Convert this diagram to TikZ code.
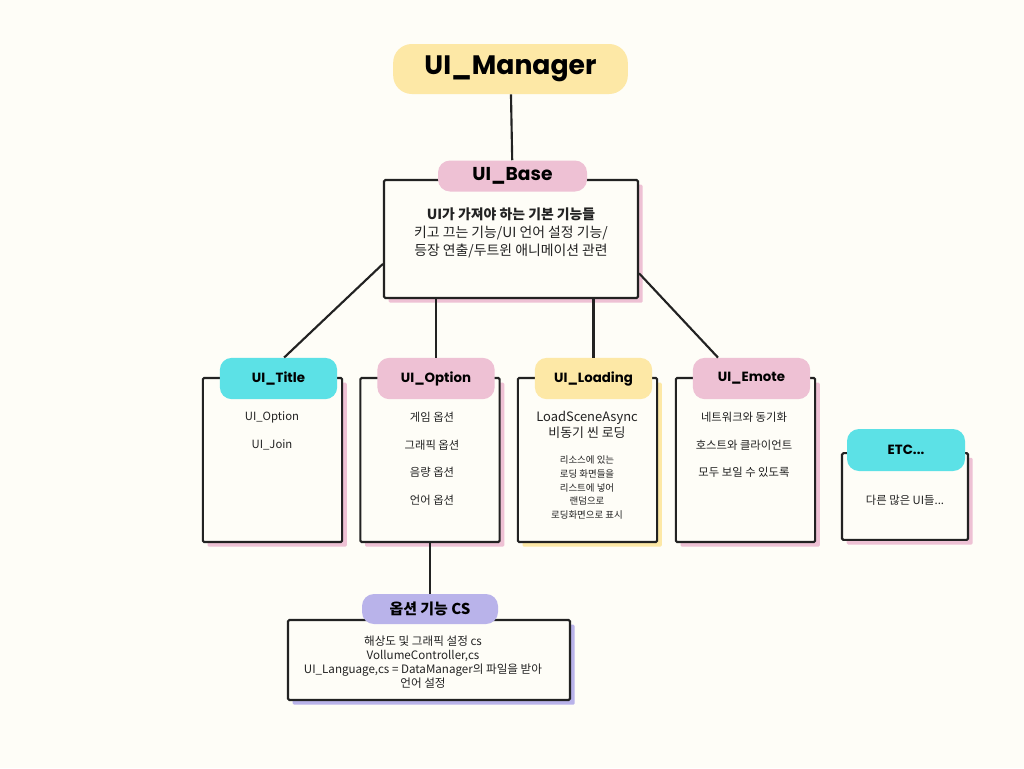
\documentclass[tikz,border=0pt]{standalone}
\usepackage{fontspec}
\setmainfont{Noto Sans CJK KR}
\newfontfamily\labelfont{Poppins}
\usetikzlibrary{positioning,calc}
\definecolor{paper}{HTML}{FEFDF7}
\definecolor{yellowc}{HTML}{FDE8A6}
\definecolor{pinkc}{HTML}{EEC1D4}
\definecolor{cyanc}{HTML}{5CE1E6}
\definecolor{purplec}{HTML}{B9B3EA}
\definecolor{ink}{HTML}{222222}
\tikzset{
  box/.style={draw=ink, line width=1.6pt, fill=paper, rounded corners=1pt,
    preaction={fill=#1, transform canvas={shift={(3.5pt,-3.5pt)}}}},
  pill/.style={fill=#1, rounded corners=9pt, inner sep=0pt, font=\labelfont\bfseries\fontsize{10}{12}\selectfont},
  conn/.style={draw=ink, line width=1.6pt},
  body/.style={text=ink, align=center, font=\fontsize{8.5}{10.5}\selectfont},
}
\begin{document}
\begin{tikzpicture}[x=0.75pt,y=-0.75pt]
    \fill[paper] (0,0) rectangle (1024,768);
    \useasboundingbox (0,0) rectangle (1024,768);
    % top
    \node[pill=yellowc, minimum width=176pt, minimum height=37.5pt, rounded corners=14pt,
      font=\labelfont\bfseries\fontsize{20}{24}\selectfont] (mgr) at (510.5,69) {UI\_Manager};
    \node[box=pinkc, minimum width=190.5pt, minimum height=88.5pt] (base) at (511,239) {};
    \node[pill=pinkc, minimum width=111.75pt, minimum height=23.25pt,
      font=\labelfont\bfseries\fontsize{14}{16}\selectfont] (basepill) at (512.5,176) {UI\_Base};
    \node[body, font=\fontsize{10.4}{13.5}\selectfont] (basetxt) at (511,233)
      {\textbf{UI가 가져야 하는 기본 기능들}\\키고 끄는 기능/UI 언어 설정 기능/\\등장 연출/두트윈 애니메이션 관련};
    % children
    \foreach \nm/\x/\pc/\sc/\lab in {t/272.5/cyanc/pinkc/UI\_Title, o/430/pinkc/pinkc/UI\_Option,
        l/587.5/yellowc/yellowc/UI\_Loading, e/745.5/pinkc/pinkc/UI\_Emote}{
        \node[box=\sc, minimum width=104.5pt, minimum height=123pt] (\nm box) at (\x,460) {};
        \node[pill=\pc, minimum width=88pt, minimum height=31pt] (\nm pill) at (\x+6,378.5) {\lab};
    }
    \node[box=pinkc, minimum width=94.5pt, minimum height=65pt] (etcbox) at (905,496.5) {};
    \node[pill=cyanc, minimum width=88.5pt, minimum height=31.5pt] (etcpill) at (906,450) {ETC...};
    \node[body] (etctxt) at (905,500) {다른 많은 UI들...};
    % texts
    \node[body] (t1) at (272,417) {UI\_Option};
    \node[body] (t2) at (272,445) {UI\_Join};
    \foreach \y/\txt in {417/게임 옵션, 445/그래픽 옵션, 472/음량 옵션, 500/언어 옵션}
        \node[body] at (432,\y) {\txt};
    \node[body, font=\fontsize{9.7}{12}\selectfont] (l1) at (587,425) {LoadSceneAsync\\비동기 씬 로딩};
    \node[body, font=\fontsize{7.1}{10.3}\selectfont] (l2) at (587,487.5)
      {리소스에 있는\\로딩 화면들을\\리스트에 넣어\\랜덤으로\\로딩화면으로 표시};
    \node[body] (e1) at (744,417) {네트워크와 동기화};
    \node[body] (e2) at (744,445) {호스트와 클라이언트};
    \node[body] (e3) at (744,472) {모두 보일 수 있도록};
    % option cs
    \node[box=purplec, minimum width=211.5pt, minimum height=60pt] (csbox) at (429,660) {};
    \node[pill=purplec, minimum width=102pt, minimum height=22.5pt,
      font=\bfseries\fontsize{11.2}{13}\selectfont] (cspill) at (430,609) {옵션 기능 CS};
    \node[body, font=\fontsize{8.7}{10.6}\selectfont] (cstxt) at (423,662)
      {해상도 및 그래픽 설정 cs\\VollumeController,cs\\UI\_Language,cs = DataManager의 파일을 받아\\언어 설정};
    % connectors
    \draw[conn] (mgr) -- (basepill);
    \draw[conn] (base.191) -- (tpill.75);
    \draw[conn] (opill.north |- base.south) -- (opill.north);
    \draw[conn] (lpill.north |- base.south) -- (lpill.north);
    \draw[conn] (base.-15) -- (epill.148);
    \draw[conn] (obox.south) -- (cspill);
\end{tikzpicture}
\end{document}
